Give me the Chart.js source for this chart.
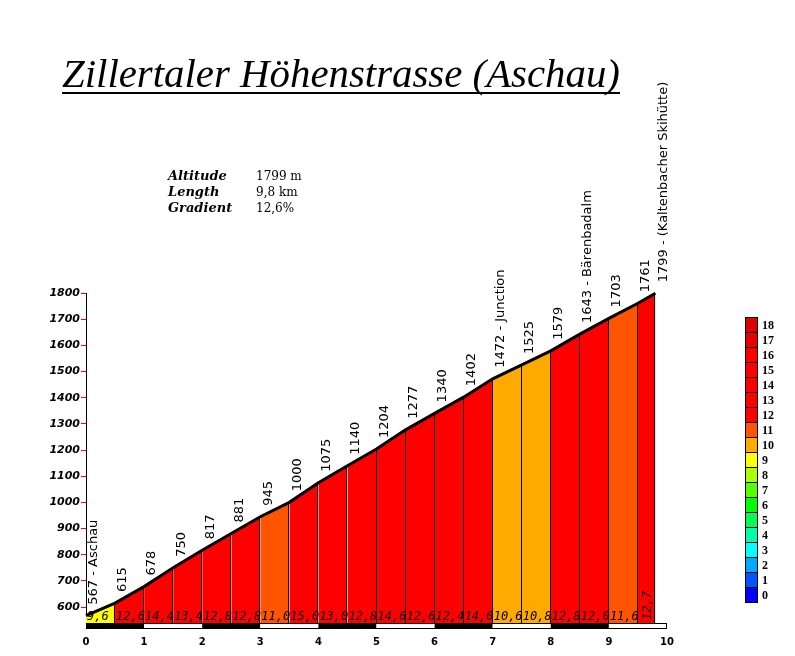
<!DOCTYPE html>
<html>
<head>
<meta charset="utf-8">
<script src="https://cdn.jsdelivr.net/npm/chart.js@4.4.0/dist/chart.umd.min.js"></script>
<style>
  html, body { margin: 0; padding: 0; background: #fff; }
  canvas { display: block; }
</style>
</head>
<body>
<canvas id="profile" width="795" height="656"></canvas>
<script>
// km markers of the climb and the altitude at each one
const distances = [0, 0.5, 1, 1.5, 2, 2.5, 3, 3.5, 4, 4.5, 5, 5.5, 6, 6.5, 7, 7.5, 8, 8.5, 9, 9.5, 9.8]
const altitudes = [567, 615, 678, 750, 817, 881, 945, 1000, 1075, 1140, 1204, 1277, 1340, 1402, 1472, 1525, 1579, 1643, 1703, 1761, 1799]
const pointNames = ['Aschau', '', '', '', '', '', '', '', '', '', '', '', '', '', 'Junction', '', '', 'Bärenbadalm', '', '', '(Kaltenbacher Skihütte)']
// gradient (%) of each segment between two markers
const gradients = [9.6, 12.6, 14.4, 13.4, 12.8, 12.8, 11.0, 15.0, 13.0, 12.8, 14.6, 12.6, 12.4, 14.0, 10.6, 10.8, 12.8, 12.0, 11.6, 12.7]

const xTicks = [0, 1, 2, 3, 4, 5, 6, 7, 8, 9, 10]
const yTicks = [600, 700, 800, 900, 1000, 1100, 1200, 1300, 1400, 1500, 1600, 1700, 1800]

// colour scale on the right
const legendLevels = [0, 1, 2, 3, 4, 5, 6, 7, 8, 9, 10, 11, 12, 13, 14, 15, 16, 17, 18]
const legendColors = ['#0000ff', '#0055ff', '#00aaff', '#00ffff', '#00ffaa', '#00ff55', '#00ff00', '#55ff00', '#aaff00',
  '#ffff00', '#ffaa00', '#ff5500', '#ff0000', '#ff0000', '#ff0000', '#ff0000', '#ff0000', '#e60000', '#dc0000']

const climbTitle = 'Zillertaler Höhenstrasse (Aschau)'
const infoLabels = ['Altitude', 'Length', 'Gradient']
const infoValues = ['1799 m', '9,8 km', '12,6%']

const colorFor = (g) => legendColors[Math.min(legendLevels.length - 1, Math.floor(g))]
const comma = (v) => v.toFixed(1).replace('.', ',')

const segmentDatasets = gradients.map((g, i) => ({
  data: [{ x: distances[i], y: altitudes[i] }, { x: distances[i + 1], y: altitudes[i + 1] }],
  backgroundColor: colorFor(g),
  borderColor: 'rgba(0,0,0,0)',
  borderWidth: 1,
  pointRadius: 0,
  fill: 'start',
  order: 2,
}))

const profileDataset = {
  data: distances.map((d, i) => ({ x: d, y: altitudes[i] })),
  borderColor: '#000',
  borderWidth: 3,
  pointRadius: 0,
  fill: false,
  clip: 6,
  order: 1,
}

const decorations = {
  id: 'decorations',
  afterDatasetsDraw(chart) {
    const { ctx, chartArea, scales: { x, y } } = chart
    ctx.save()

    // vertical lines between the segments
    ctx.strokeStyle = '#000'
    ctx.lineWidth = 1
    distances.forEach((d, i) => {
      if (i === 0) return
      const px = Math.round(x.getPixelForValue(d)) - 0.5
      ctx.beginPath()
      ctx.moveTo(px, chartArea.bottom)
      ctx.lineTo(px, y.getPixelForValue(altitudes[i]))
      ctx.stroke()
    })

    // km bar under the profile
    const barTop = chartArea.bottom
    for (let k = 0; k < xTicks.length - 1; k++) {
      const x0 = x.getPixelForValue(xTicks[k])
      const x1 = x.getPixelForValue(xTicks[k + 1])
      ctx.fillStyle = k % 2 === 0 ? '#000' : '#fff'
      ctx.fillRect(x0, barTop, x1 - x0, 5)
    }
    ctx.strokeRect(x.getPixelForValue(0) + 0.5, barTop + 0.5, x.getPixelForValue(10) - x.getPixelForValue(0) - 1, 5)

    // gradient of each segment
    ctx.fillStyle = '#000'
    ctx.font = 'italic 12px "DejaVu Sans Mono"'
    ctx.textBaseline = 'alphabetic'
    gradients.forEach((g, i) => {
      const x0 = x.getPixelForValue(distances[i])
      const x1 = x.getPixelForValue(distances[i + 1])
      if (x1 - x0 < 25) {
        ctx.save()
        ctx.translate((x0 + x1) / 2 + 4, chartArea.bottom - 3)
        ctx.rotate(-Math.PI / 2)
        ctx.textAlign = 'left'
        ctx.fillText(comma(g), 0, 0)
        ctx.restore()
      } else {
        ctx.textAlign = 'left'
        ctx.fillText(comma(g), x0 + 1, chartArea.bottom - 3)
      }
    })

    // altitude labels above the profile
    ctx.font = '13px "DejaVu Sans"'
    ctx.textBaseline = 'middle'
    ctx.textAlign = 'left'
    distances.forEach((d, i) => {
      const text = altitudes[i] + (pointNames[i] ? ' - ' + pointNames[i] : '')
      ctx.save()
      ctx.translate(x.getPixelForValue(d) + 8, y.getPixelForValue(altitudes[i]) - 11)
      ctx.rotate(-Math.PI / 2)
      ctx.fillText(text, 0, 0)
      ctx.restore()
    })
    ctx.restore()
  },
  afterDraw(chart) {
    const { ctx } = chart
    ctx.save()
    ctx.fillStyle = '#000'

    // title, stretched to the width of the original
    let size = 36
    ctx.font = `italic ${size}px "Liberation Serif"`
    size = size * 558 / ctx.measureText(climbTitle).width
    ctx.font = `italic ${size}px "Liberation Serif"`
    ctx.textAlign = 'left'
    ctx.textBaseline = 'alphabetic'
    ctx.fillText(climbTitle, 62, 87)
    ctx.fillRect(62, 92, 558, 2)

    // info block
    infoLabels.forEach((label, i) => {
      ctx.font = 'bold italic 13px "DejaVu Serif"'
      ctx.fillText(label, 168, 180 + i * 16)
      ctx.font = '12px "DejaVu Serif"'
      ctx.fillText(infoValues[i], 256, 180 + i * 16)
    })

    // colour scale
    const boxH = 15
    const top = 317
    ctx.lineWidth = 1
    ctx.strokeStyle = '#000'
    ctx.font = 'bold 12px "Liberation Serif"'
    ctx.textBaseline = 'middle'
    legendLevels.slice().reverse().forEach((lvl, j) => {
      const by = top + j * boxH
      ctx.fillStyle = legendColors[lvl]
      ctx.fillRect(745, by, 13, boxH)
      ctx.strokeRect(745.5, by + 0.5, 12, boxH)
      ctx.fillStyle = '#000'
      ctx.fillText(String(lvl), 762, by + boxH / 2 + 1)
    })
    ctx.restore()
  },
}

Chart.defaults.color = '#000'

new Chart(document.getElementById('profile'), {
  type: 'line',
  data: { datasets: [profileDataset, ...segmentDatasets] },
  options: {
    responsive: false,
    animation: false,
    events: [],
    layout: { padding: { top: 293, left: 0, right: 128, bottom: 0 } },
    plugins: { legend: { display: false }, tooltip: { enabled: false } },
    scales: {
      x: {
        type: 'linear',
        min: 0,
        max: 10,
        afterBuildTicks: (s) => { s.ticks = xTicks.map((v) => ({ value: v })) },
        afterFit: (s) => { s.height = 33 },
        grid: { display: false, drawTicks: false },
        border: { display: false },
        ticks: { padding: 13, callback: (v) => String(v), font: { family: 'DejaVu Sans', size: 10, weight: 'bold' } },
      },
      y: {
        type: 'linear',
        min: 539,
        max: 1800,
        afterBuildTicks: (s) => { s.ticks = yTicks.map((v) => ({ value: v })) },
        afterFit: (s) => { s.width = 86 },
        grid: { drawOnChartArea: false, tickColor: '#ff0000', tickLength: 5 },
        border: { display: true, color: '#000', width: 1 },
        ticks: { padding: 1, callback: (v) => String(v), font: { family: 'DejaVu Sans', size: 11, weight: 'bold', style: 'italic' } },
      },
    },
  },
  plugins: [decorations],
})
</script>
</body>
</html>
